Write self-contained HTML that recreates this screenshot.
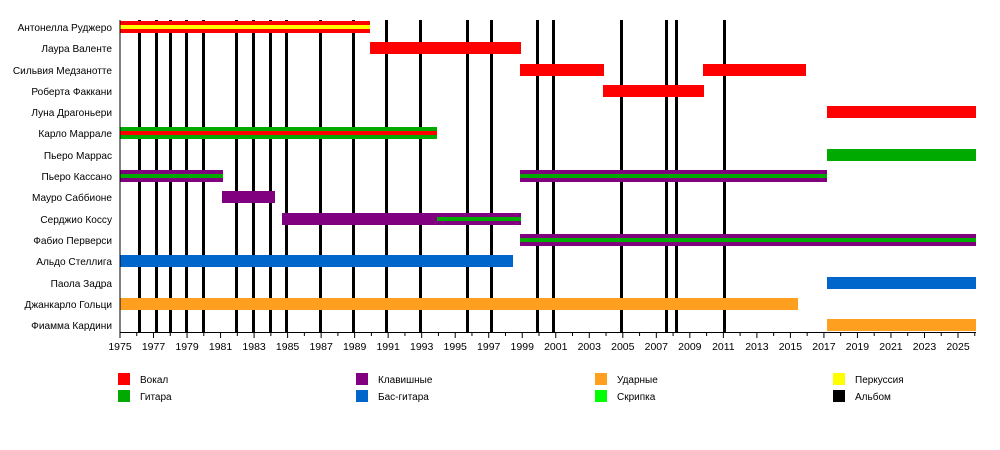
<!DOCTYPE html>
<html><head><meta charset="utf-8"><style>body{margin:0;background:#fff}svg{display:block;font-family:"Liberation Sans",sans-serif}</style></head><body>
<svg width="1000" height="450" xmlns="http://www.w3.org/2000/svg">
<g fill="#000">
<rect x="138" y="20" width="3" height="312"/><rect x="155" y="20" width="3" height="312"/><rect x="169" y="20" width="3" height="312"/><rect x="185" y="20" width="3" height="312"/><rect x="202" y="20" width="3" height="312"/><rect x="235" y="20" width="3" height="312"/><rect x="252" y="20" width="3" height="312"/><rect x="269" y="20" width="3" height="312"/><rect x="285" y="20" width="3" height="312"/><rect x="319" y="20" width="3" height="312"/><rect x="352" y="20" width="3" height="312"/><rect x="385" y="20" width="3" height="312"/><rect x="419" y="20" width="3" height="312"/><rect x="466" y="20" width="3" height="312"/><rect x="490" y="20" width="3" height="312"/><rect x="536" y="20" width="3" height="312"/><rect x="552" y="20" width="3" height="312"/><rect x="620" y="20" width="3" height="312"/><rect x="665" y="20" width="3" height="312"/><rect x="675" y="20" width="3" height="312"/><rect x="723" y="20" width="3" height="312"/>
</g>
<rect x="120" y="21" width="250" height="12" fill="#f00"/><rect x="120" y="25" width="250" height="4" fill="#ff0"/>
<rect x="370" y="42" width="151" height="12" fill="#f00"/>
<rect x="520" y="64" width="84" height="12" fill="#f00"/><rect x="703" y="64" width="103" height="12" fill="#f00"/>
<rect x="603" y="85" width="101" height="12" fill="#f00"/>
<rect x="827" y="106" width="149" height="12" fill="#f00"/>
<rect x="120" y="127" width="317" height="12" fill="#00aa00"/><rect x="120" y="131" width="317" height="4" fill="#f00"/>
<rect x="827" y="149" width="149" height="12" fill="#00aa00"/>
<rect x="120" y="170" width="103" height="12" fill="#800080"/><rect x="120" y="174" width="103" height="4" fill="#00aa00"/>
<rect x="520" y="170" width="307" height="12" fill="#800080"/><rect x="520" y="174" width="307" height="4" fill="#00aa00"/>
<rect x="222" y="191" width="53" height="12" fill="#800080"/>
<rect x="282" y="213" width="239" height="12" fill="#800080"/><rect x="437" y="217" width="84" height="4" fill="#00aa00"/>
<rect x="520" y="234" width="456" height="12" fill="#800080"/><rect x="520" y="238" width="456" height="4" fill="#00aa00"/>
<rect x="120" y="255" width="393" height="12" fill="#0066cc"/>
<rect x="827" y="277" width="149" height="12" fill="#0066cc"/>
<rect x="120" y="298" width="678" height="12" fill="#ff9f1f"/>
<rect x="827" y="319" width="149" height="12" fill="#ff9f1f"/>
<line x1="120" y1="20" x2="120" y2="333" stroke="#000"/>
<line x1="120" y1="332.5" x2="976" y2="332.5" stroke="#000"/>
<g stroke="#000" id="ticks"></g>
<g font-size="10.1" text-anchor="end" fill="#000">
<text x="112" y="31">Антонелла Руджеро</text><text x="112" y="52">Лаура Валенте</text><text x="112" y="74">Сильвия Медзанотте</text><text x="112" y="95">Роберта Факкани</text><text x="112" y="116">Луна Драгоньери</text><text x="112" y="137">Карло Маррале</text><text x="112" y="159">Пьеро Маррас</text><text x="112" y="180">Пьеро Кассано</text><text x="112" y="201">Мауро Саббионе</text><text x="112" y="223">Серджио Коссу</text><text x="112" y="244">Фабио Перверси</text><text x="112" y="265">Альдо Стеллига</text><text x="112" y="287">Паола Задра</text><text x="112" y="308">Джанкарло Гольци</text><text x="112" y="329">Фиамма Кардини</text>
</g>
<g font-size="10.5" text-anchor="middle" id="labels"></g>
<script>
var t=document.getElementById('ticks'),l=document.getElementById('labels'),ns='http://www.w3.org/2000/svg';
for(var y=1975;y<=2026;y++){var x=120+(y-1975)*16.76;var e=document.createElementNS(ns,'line');e.setAttribute('x1',x);e.setAttribute('x2',x);e.setAttribute('y1',332);e.setAttribute('y2',(y%2)?338:336);t.appendChild(e);
if(y%2){var s=document.createElementNS(ns,'text');s.setAttribute('x',x);s.setAttribute('y',350);s.textContent=y;l.appendChild(s);}}
</script>
<g font-size="10">
<rect x="118" y="373" width="12" height="12" fill="#f00"/><text x="140" y="383">Вокал</text>
<rect x="118" y="390" width="12" height="12" fill="#00aa00"/><text x="140" y="400">Гитара</text>
<rect x="356" y="373" width="12" height="12" fill="#800080"/><text x="378" y="383">Клавишные</text>
<rect x="356" y="390" width="12" height="12" fill="#0066cc"/><text x="378" y="400">Бас-гитара</text>
<rect x="595" y="373" width="12" height="12" fill="#ff9f1f"/><text x="617" y="383">Ударные</text>
<rect x="595" y="390" width="12" height="12" fill="#00ff00"/><text x="617" y="400">Скрипка</text>
<rect x="833" y="373" width="12" height="12" fill="#ff0"/><text x="855" y="383">Перкуссия</text>
<rect x="833" y="390" width="12" height="12" fill="#000"/><text x="855" y="400">Альбом</text>
</g>
</svg>
</body></html>
